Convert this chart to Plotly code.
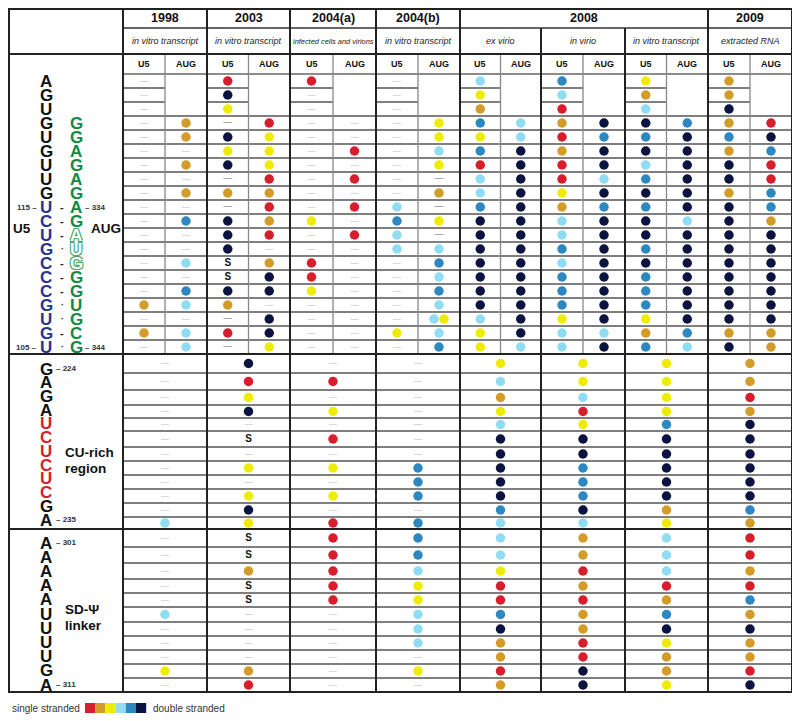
import plotly.graph_objects as go

# ---------------- DATA ----------------
YEARS = ["1998", "2003", "2004(a)", "2004(b)", "2008", "2009"]
YEAR_SPANS = [1, 1, 1, 1, 3, 1]          # how many study columns each year header spans
SUBTITLES = ["in vitro transcript", "in vitro transcript", "infected cells and virions",
             "in vitro transcript", "ex virio", "in virio", "in vitro transcript", "extracted RNA"]

# codes: R red, O gold, Y yellow, L light blue, B blue, N navy (single -> double stranded)
#        "-" not determined, "D" long dash, "S" letter S, "" merged/empty, "LY" two dots
U5_REGION_U5 = [
    ["-"] * 16 + ["O", "-", "O", "-"],                                                        # 1998
    ["R","N","Y","D","N","Y","N","D","O","D","N","N","N","S","S","N","O","D","R","D"],         # 2003
    ["R","-","-","-","-","-","-","-","-","-","Y","-","-","R","R","Y","-","-","-","-"],         # 2004(a)
    ["-"] * 9 + ["L","B","L","L","-","-","-","-","-","Y","-"],                                 # 2004(b)
    ["L","Y","O","B","Y","B","R","L","L","B","N","N","N","N","N","N","N","L","Y","Y"],         # ex virio
    ["B","L","R","O","R","O","R","R","Y","O","L","L","B","L","B","B","B","Y","L","L"],         # in virio
    ["Y","O","L","N","B","N","L","B","N","B","N","N","B","N","B","B","B","Y","O","B"],         # in vitro 2008
    ["O","O","N","O","B","O","N","N","O","N","N","N","N","N","N","N","N","N","O","N"],         # 2009
]
U5_REGION_AUG = [
    ["","","","O","O","-","O","-","O","-","B","-","-","L","-","B","L","-","L","L"],
    ["","","","R","Y","Y","Y","R","O","R","O","R","-","O","N","N","-","N","N","Y"],
    ["","","","-","-","R","-","R","-","R","-","R","-","-","-","-","-","-","-","-"],
    ["","","","Y","Y","L","Y","D","O","D","Y","D","L","B","L","B","L","LY","L","B"],
    ["","","","L","L","N","N","N","N","N","N","N","N","N","N","N","N","N","N","L"],
    ["","","","N","B","N","N","L","N","B","N","N","N","N","N","N","N","N","L","N"],
    ["","","","B","N","N","N","N","N","N","L","N","N","N","N","N","N","N","B","L"],
    ["","","","R","N","B","R","R","B","B","O","N","N","N","N","N","N","N","O","O"],
]
CU_REGION = [
    ["-","-","-","-","-","-","-","-","-","-","-","L"],
    ["N","R","Y","N","-","S","-","Y","-","Y","N","Y"],
    ["-","R","-","Y","-","R","-","Y","-","Y","-","R"],
    ["-","-","-","-","-","-","-","B","B","B","-","B"],
    ["Y","L","O","Y","L","N","N","N","N","N","B","L"],
    ["Y","Y","L","R","Y","N","N","B","B","B","N","L"],
    ["Y","Y","Y","Y","B","N","N","N","N","N","O","Y"],
    ["O","O","R","O","N","N","N","N","N","N","B","O"],
]
SD_REGION = [
    ["-","-","-","-","-","L","-","-","-","Y","-"],
    ["S","S","O","S","S","-","-","-","-","O","R"],
    ["R","R","R","R","R","-","-","-","-","-","-"],
    ["B","B","L","Y","Y","L","L","L","-","Y","-"],
    ["L","L","Y","R","R","B","N","O","O","R","O"],
    ["O","O","R","O","R","O","O","R","R","N","N"],
    ["L","L","L","R","O","B","N","Y","O","O","Y"],
    ["R","R","O","R","B","O","N","O","O","R","N"],
]

U5_SEQ = list("AGUGUGUUGUCUGCCCGUGU")
AUG_SEQ = list("GGAGAGAGAUGGGUGCG")        # rows 4..20
AUG_HOLLOW = [12, 13, 14]                   # rows drawn as outline letters
PAIRS = ["-", "-", "-", "·", "-", "-", "-", "·", "·", "-", "·"]   # rows 10..20
CU_SEQ = list("GAGAUCUCUCGA")
SD_SEQ = list("AAAAAUUUUGA")
LEGEND_ORDER = ["R", "O", "Y", "L", "B", "N"]

COLORS = {"R": "#d81e2c", "O": "#d39b28", "Y": "#eeec00",
          "L": "#8fdcf3", "B": "#2d87c0", "N": "#0b1440"}
BLUE = "#2e3192"
GREEN = "#138a3e"
RED = "#d81e2c"

# ---------------- LAYOUT GEOMETRY ----------------
PAGE_OFF = 8   # default body margin of the html page
COL = [PAGE_OFF + 1, 123, 207, 290, 376, 460, 541, 625, 708, 792]
Y_TOP, Y_H1, Y_H2, Y_H3 = PAGE_OFF + 1, 28, 54, 74
U5_ROW_H = 14
U5_EDGES = [Y_H3 + U5_ROW_H * k for k in range(21)]
CU_EDGES = [354, 373, 390, 405, 418, 431, 447, 461, 475, 489, 503, 517, 529]
SD_EDGES = [529, 547, 563, 579, 593, 607, 622, 636, 650, 664, 678, 692]
Y_BOT = 692
FONT = "Liberation Sans, Arial, sans-serif"

fig = go.Figure()
shapes = []


def line(x0, y0, x1, y1, w, c):
    shapes.append(dict(type="line", x0=x0, y0=y0, x1=x1, y1=y1, xref="x", yref="y",
                       line=dict(width=w, color=c), layer="below"))


THICK, DARK = 2, "#222"
ROWC, ROWW = "#555", 1.3
# row lines
for k in range(1, 20):
    y = U5_EDGES[k]
    if k <= 2:
        for i in range(8):
            l, r = COL[i + 1], COL[i + 2]
            line(l, y, (l + r) / 2, y, ROWW, ROWC)
    else:
        line(COL[1], y, COL[-1], y, ROWW, ROWC)
for edges in (CU_EDGES, SD_EDGES):
    for y in edges[1:-1]:
        line(COL[1], y, COL[-1], y, ROWW, ROWC)
line(COL[1], Y_H3, COL[-1], Y_H3, 1.3, "#666")
# inner U5/AUG separators
for i in range(8):
    l, r = COL[i + 1], COL[i + 2]
    line((l + r) / 2, Y_H2, (l + r) / 2, U5_EDGES[-1], 1.3, "#888")
line(COL[1], Y_H1, COL[-1], Y_H1, 1.5, "#333")
# thick lines
for x in [COL[1], COL[2], COL[3], COL[4], COL[5], COL[8]]:
    line(x, Y_TOP, x, Y_BOT, THICK, DARK)
for x in [COL[6], COL[7]]:
    line(x, Y_H1, x, Y_BOT, THICK, DARK)
for y in [Y_H2, U5_EDGES[-1], CU_EDGES[-1]]:
    line(COL[0], y, COL[-1], y, THICK, DARK)
shapes.append(dict(type="rect", x0=COL[0], y0=Y_TOP, x1=COL[-1], y1=Y_BOT, xref="x", yref="y",
                   line=dict(width=THICK, color=DARK), layer="below"))

# ---------------- MARKS ----------------
dots = {c: ([], []) for c in COLORS}
texts = {"-": ([], []), "D": ([], []), "S": ([], [])}


def place(code, x, y):
    if code == "":
        return
    if code in COLORS:
        dots[code][0].append(x)
        dots[code][1].append(y)
    elif code == "LY":
        dots["L"][0].append(x - 5); dots["L"][1].append(y)
        dots["Y"][0].append(x + 5); dots["Y"][1].append(y)
    else:
        texts[code][0].append(x)
        texts[code][1].append(y)


for i in range(8):
    l, r = COL[i + 1], COL[i + 2]
    w = r - l
    for k in range(20):
        yc = (U5_EDGES[k] + U5_EDGES[k + 1]) / 2
        place(U5_REGION_U5[i][k], l + w * 0.25, yc)
        place(U5_REGION_AUG[i][k], l + w * 0.75, yc)
    for k in range(len(CU_REGION[i])):
        place(CU_REGION[i][k], l + w / 2, (CU_EDGES[k] + CU_EDGES[k + 1]) / 2)
    for k in range(len(SD_REGION[i])):
        place(SD_REGION[i][k], l + w / 2, (SD_EDGES[k] + SD_EDGES[k + 1]) / 2)

for c, (xs, ys) in dots.items():
    fig.add_trace(go.Scatter(x=xs, y=ys, mode="markers",
                             marker=dict(size=9.5, color=COLORS[c], line=dict(width=0)),
                             hoverinfo="skip"))
fig.add_trace(go.Scatter(x=texts["-"][0], y=texts["-"][1], mode="text", text=["----"] * len(texts["-"][0]),
                         textfont=dict(size=6, color="#8a8a8a", family=FONT), hoverinfo="skip"))
fig.add_trace(go.Scatter(x=texts["D"][0], y=texts["D"][1], mode="text", text=["—"] * len(texts["D"][0]),
                         textfont=dict(size=9, color="#666", family=FONT), hoverinfo="skip"))
fig.add_trace(go.Scatter(x=texts["S"][0], y=texts["S"][1], mode="text", text=["S"] * len(texts["S"][0]),
                         textfont=dict(size=10, color="#111", family=FONT, weight="bold"), hoverinfo="skip"))

# ---------------- TEXT ----------------
ann = []


def txt(x, y, s, size, color="#111", bold=False, italic=False, xa="center", shadow=None):
    f = dict(size=size, color=color, family=FONT)
    if bold:
        f["weight"] = "bold"
    if italic:
        f["style"] = "italic"
    if shadow:
        f["shadow"] = shadow
    ann.append(dict(x=x, y=y, xref="x", yref="y", text=s, showarrow=False, font=f,
                    xanchor=xa, yanchor="middle"))


# header
ci = 0
for yr, span in zip(YEARS, YEAR_SPANS):
    l, r = COL[ci + 1], COL[ci + 1 + span]
    txt((l + r) / 2, (7 + Y_H1) / 2 + 0.5, yr, 12.5, bold=True)
    ci += span
for i, s in enumerate(SUBTITLES):
    l, r = COL[i + 1], COL[i + 2]
    txt((l + r) / 2, (Y_H1 + Y_H2) / 2, s, 7.4 if len(s) > 22 else 9, color="#222", italic=True)
    txt(l + (r - l) * 0.25, (Y_H2 + Y_H3) / 2, "U5", 9, bold=True)
    txt(l + (r - l) * 0.75, (Y_H2 + Y_H3) / 2, "AUG", 9, bold=True)

LX, RX, PX = 46, 76, 62
BIG = 17
for k, ch in enumerate(U5_SEQ):
    yc = (U5_EDGES[k] + U5_EDGES[k + 1]) / 2
    txt(LX, yc, ch, BIG, color="#111" if k < 9 else BLUE, bold=True)
for j, ch in enumerate(AUG_SEQ):
    row = j + 4
    yc = (U5_EDGES[row - 1] + U5_EDGES[row]) / 2
    if row in AUG_HOLLOW:
        txt(RX, yc, ch, BIG, color="white", bold=True,
            shadow="-1px -1px 0 #4aa96c, 1px -1px 0 #4aa96c, -1px 1px 0 #4aa96c, 1px 1px 0 #4aa96c")
    else:
        txt(RX, yc, ch, BIG, color=GREEN, bold=True)
for j, p in enumerate(PAIRS):
    row = j + 10
    yc = (U5_EDGES[row - 1] + U5_EDGES[row]) / 2
    txt(PX, yc, p, 11 if p == "-" else 9, bold=True, color="#222")
r10 = (U5_EDGES[9] + U5_EDGES[10]) / 2
r20 = (U5_EDGES[19] + U5_EDGES[20]) / 2
txt(39, r10, "115 –", 8, bold=True, color="#333", xa="right")
txt(83, r10, "– 334", 8, bold=True, color="#333", xa="left")
txt(39, r20, "105 –", 8, bold=True, color="#333", xa="right")
txt(83, r20, "– 344", 8, bold=True, color="#333", xa="left")
txt(22, (U5_EDGES[10] + U5_EDGES[12]) / 2, "U5", 13.5, bold=True)
txt(106, (U5_EDGES[10] + U5_EDGES[12]) / 2, "AUG", 13.5, bold=True)

# CU-rich
n = len(CU_SEQ)
cu_y = [369 + (520 - 369) * k / (n - 1) for k in range(n)]
for k, ch in enumerate(CU_SEQ):
    txt(LX, cu_y[k], ch, BIG, color=RED if 4 <= k <= 9 else "#111", bold=True)
txt(54, cu_y[0] - 1, "– 224", 8, bold=True, color="#333", xa="left")
txt(54, cu_y[-1] - 1, "– 235", 8, bold=True, color="#333", xa="left")
txt(63, 452, "CU-rich", 13.5, bold=True, xa="left")
txt(63, 468, "region", 13.5, bold=True, xa="left")

# SD-psi
n = len(SD_SEQ)
sd_y = [543 + (685 - 543) * k / (n - 1) for k in range(n)]
for k, ch in enumerate(SD_SEQ):
    txt(LX, sd_y[k], ch, BIG, bold=True)
txt(54, sd_y[0] - 1, "– 301", 8, bold=True, color="#333", xa="left")
txt(54, sd_y[-1] - 1, "– 311", 8, bold=True, color="#333", xa="left")
txt(63, 609, "SD-Ψ", 13.5, bold=True, xa="left")
txt(63, 625, "linker", 13.5, bold=True, xa="left")

# legend
txt(10, 708, "single stranded", 10, color="#333", xa="left")
for i, c in enumerate(LEGEND_ORDER):
    shapes.append(dict(type="rect", x0=85 + i * 10.2, x1=85 + (i + 1) * 10.2, y0=703, y1=713,
                       xref="x", yref="y", fillcolor=COLORS[c], line=dict(width=0)))
txt(151, 708, "double stranded", 10, color="#333", xa="left")

# the page body has an 8px margin: the plot area starts at page pixel 8
fig.update_layout(
    width=800 - PAGE_OFF, height=721 - PAGE_OFF, margin=dict(l=0, r=0, t=0, b=0),
    paper_bgcolor="white", plot_bgcolor="white", showlegend=False,
    xaxis=dict(range=[PAGE_OFF, 800], visible=False, fixedrange=True),
    yaxis=dict(range=[721, PAGE_OFF], visible=False, fixedrange=True),
    shapes=shapes, annotations=ann,
)
fig.write_html("out.html", config={"displayModeBar": False})
